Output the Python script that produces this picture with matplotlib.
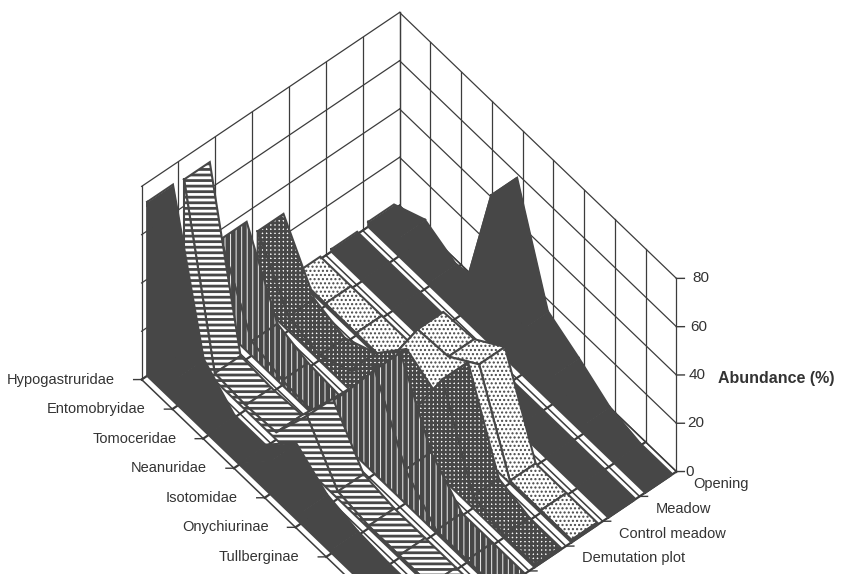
import matplotlib
matplotlib.use("Agg")
import matplotlib as mpl
import matplotlib.pyplot as plt
from mpl_toolkits.mplot3d import proj3d
from mpl_toolkits.mplot3d.art3d import Poly3DCollection

plt.rcParams['font.family'] = ['Liberation Sans', 'DejaVu Sans']

# family names, one per point along the ribbons (the last ones have no label drawn)
families = ["Hypogastruridae", "Entomobryidae", "Tomoceridae", "Neanuridae",
            "Isotomidae", "Onychiurinae", "Tullberginae"]
n_families = 10
site_labels = ["Opening", "Meadow", "Control meadow", "Demutation plot"]
z_ticks = [0, 20, 40, 60, 80]

# abundance (%) per family, back ribbon first
opening = [2, 8, 2, 5, 62, 19, 12, 4, 1, 1]
meadow = [1, 1, 1, 1, 1, 1, 1, 1, 1, 1]
control_meadow = [1, 1, 1, 1, 27, 28, 37, 1, 1, 1]
demutation_plot = [29, 6, 2, 8, 22, 15, 41, 5, 1, 1]
site_5 = [36, 6, 2, 1, 21, 43, 14, 1, 1, 1]
site_6 = [71, 3, 2, 3, 22, 3, 1, 1, 1, 1]
site_7 = [72, 12, 1, 1, 14, 5, 2, 1, 1, 1]
sites = [opening, meadow, control_meadow, demutation_plot, site_5, site_6, site_7]

DARK = "#474747"
LINE = "#3c3c3c"
TEXT = "#333333"

# fill, hatch colour, hatch, hatch width for each ribbon
styles = [
    (DARK, DARK, None, 1.0),
    (DARK, DARK, None, 1.0),
    ("white", DARK, "....", 1.0),
    ("white", DARK, "++++", 1.9),
    (DARK, "#f0f0f0", "|||", 0.7),
    ("white", DARK, "---", 2.0),
    (DARK, DARK, None, 1.0),
]

RIBBON_FRONT = 0.15
RIBBON_BACK = 0.85
# data units per screen pixel for a purely horizontal shift on the floor
PX_X = 0.01326
PX_Y = 0.01595


def add_face(ax, verts, style, zorder):
    face, hatch_color, hatch, width = style
    # the collection picks up its hatch width from rcParams when it is created
    with mpl.rc_context({'hatch.linewidth': width}):
        fill = Poly3DCollection([verts], facecolor=face, edgecolor=hatch_color, linewidth=0, hatch=hatch)
    fill.set_zorder(zorder)
    ax.add_collection3d(fill, autolim=False)
    closed = verts + verts[:1]
    xs, ys, zs = zip(*closed)
    ax.plot(xs, ys, zs, color=DARK, lw=1.5, zorder=zorder + 0.5, solid_joinstyle="miter")


def draw_walls(ax, n_sites):
    for x in range(n_families):
        ax.plot([x, x], [n_sites, n_sites], [0, 80], color=LINE, lw=0.9, zorder=1)
        ax.plot([x, x], [0, n_sites], [0, 0], color=LINE, lw=1.6, zorder=1)
    for y in range(n_sites + 1):
        ax.plot([0, 0], [y, y], [0, 80], color=LINE, lw=0.9, zorder=1)
        ax.plot([0, n_families - 1], [y, y], [0, 0], color=LINE, lw=1.1, zorder=1)
    for z in z_ticks:
        ax.plot([0, n_families - 1], [n_sites, n_sites], [z, z], color=LINE, lw=0.9, zorder=1)
        ax.plot([0, 0], [0, n_sites], [z, z], color=LINE, lw=0.9, zorder=1)


def draw_ribbon(ax, values, y0, style, zorder):
    y_front = y0 + RIBBON_FRONT
    y_back = y0 + RIBBON_BACK
    for i in range(len(values) - 1):
        top = [(i, y_front, values[i]), (i, y_back, values[i]),
               (i + 1, y_back, values[i + 1]), (i + 1, y_front, values[i + 1])]
        add_face(ax, top, style, zorder)
        zorder += 1
    last = len(values) - 1
    cap = [(last, y_front, 0), (last, y_back, 0), (last, y_back, values[last]), (last, y_front, values[last])]
    add_face(ax, cap, style, zorder)
    zorder += 1
    front = [(i, y_front, v) for i, v in enumerate(values)] + [(last, y_front, 0), (0, y_front, 0)]
    add_face(ax, front, style, zorder)
    return zorder + 1


def label_at(ax, x, y, z, name, ha, fontsize):
    # labels stay flat on the page, only their anchor comes from the 3D scene
    x2, y2, _ = proj3d.proj_transform(x, y, z, ax.get_proj())
    ax.text2D(x2, y2, name, ha=ha, va="center", fontsize=fontsize, color=TEXT, zorder=101)


def draw_labels(ax, n_sites):
    tick = 8
    for i in range(n_families):
        ax.plot([i, i - tick * PX_X], [0, -tick * PX_Y], [0, 0], color=LINE, lw=1.0, zorder=100)
    for name, i in zip(families, range(n_families)):
        label_at(ax, i - 27 * PX_X, -27 * PX_Y, 0, name, "right", 10.5)
    last = n_families - 1
    for y in range(n_sites):
        ax.plot([last, last + tick * PX_X], [y, y + tick * PX_Y], [0, 0], color=LINE, lw=1.0, zorder=100)
    for k, name in enumerate(site_labels):
        y = n_sites - k - 0.5
        label_at(ax, last + 35 * PX_X, y + 35 * PX_Y, 0, name, "left", 10.5)
    for z in z_ticks:
        ax.plot([last, last + tick * PX_X], [n_sites, n_sites + tick * PX_Y], [z, z],
                color=LINE, lw=1.0, zorder=100)
        gap = 9 + z * 7 / 80
        label_at(ax, last + gap * PX_X, n_sites + gap * PX_Y, z, str(z), "left", 11)


def main():
    fig = plt.figure(figsize=(8.48, 5.74), dpi=100, facecolor="white")
    width = 882.6
    ax = fig.add_axes([-44.2 / 848, -208.2 / 574, width / 848, width / 574], projection="3d")
    ax.computed_zorder = False
    ax.set_proj_type("ortho")
    ax.view_init(elev=53.6, azim=-39.96)
    ax.set_box_aspect((431.1, 336.5, 325.5), zoom=0.7)
    ax.set_xticks([])
    ax.set_yticks([])
    ax.set_zticks([])
    ax.set_axis_off()

    n_sites = len(sites)
    draw_walls(ax, n_sites)
    zorder = 10
    for k, values in enumerate(sites):
        zorder = draw_ribbon(ax, values, n_sites - 1 - k, styles[k], zorder)

    ax.set_xlim(0, n_families - 1, view_margin=0)
    ax.set_ylim(0, n_sites, view_margin=0)
    ax.set_zlim(0, 80, view_margin=0)
    draw_labels(ax, n_sites)
    # plotting the ticks may not move the scene
    ax.set_xlim(0, n_families - 1, view_margin=0)
    ax.set_ylim(0, n_sites, view_margin=0)
    ax.set_zlim(0, 80, view_margin=0)

    fig.text(718 / 848, 1 - 379 / 574, "Abundance (%)", fontsize=11.5, fontweight="bold",
             color=TEXT, ha="left", va="center")
    fig.savefig("out.png", dpi=100)


if __name__ == "__main__":
    main()
